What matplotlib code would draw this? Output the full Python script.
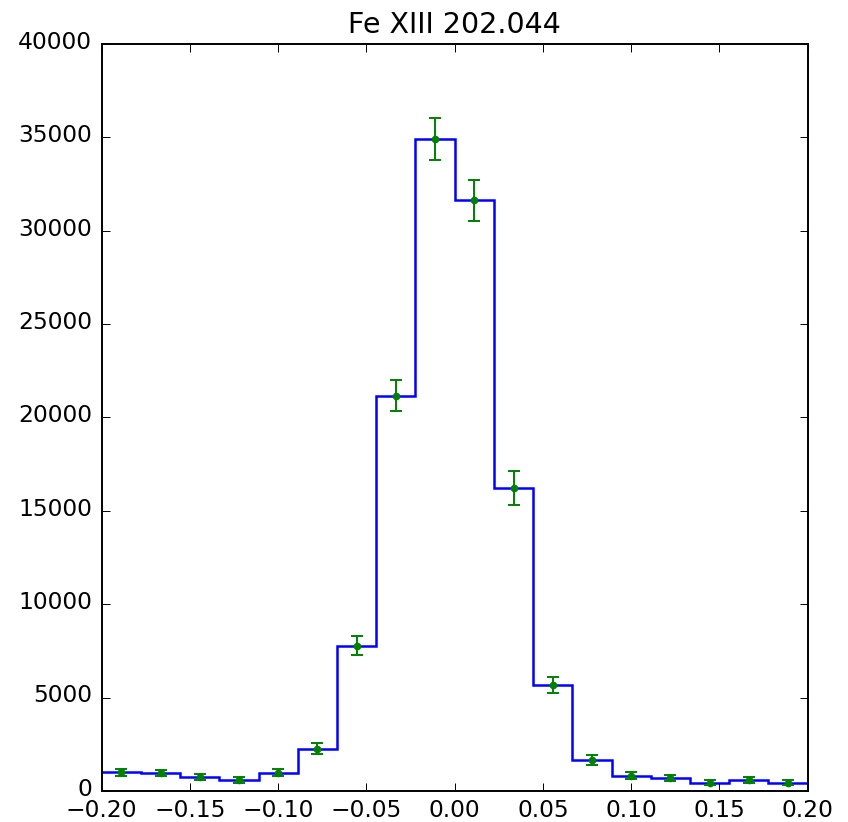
import numpy as np
import matplotlib
matplotlib.use("Agg")
import matplotlib.pyplot as plt
import matplotlib.transforms as mtransforms

# Line profile histogram: 18 bins spanning -0.2 .. 0.2
bin_lo, bin_hi, n_bins = -0.2, 0.2, 18
counts = [1000, 960, 740, 590, 990, 2270, 7790, 21170, 34920,
          31620, 16240, 5680, 1660, 830, 710, 440, 610, 450]
errors = [180, 180, 170, 150, 180, 300, 500, 840, 1120,
          1080, 920, 440, 270, 180, 170, 140, 160, 140]
title = "Fe XIII 202.044"
xticks = [-0.20, -0.15, -0.10, -0.05, 0.00, 0.05, 0.10, 0.15, 0.20]
yticks = [0, 5000, 10000, 15000, 20000, 25000, 30000, 35000, 40000]

edges = np.linspace(bin_lo, bin_hi, n_bins + 1)
centers = 0.5 * (edges[:-1] + edges[1:])

plt.rcParams["font.family"] = "DejaVu Sans"
fig = plt.figure(figsize=(8.48, 8.22), dpi=100)
ax = fig.add_axes([0.1199, 0.0377, 0.8326, 0.9088])

ax.stairs(counts, edges, baseline=None, color="b", linewidth=1.8)
ax.errorbar(centers, counts, yerr=errors, fmt=".", color="g",
            markersize=9, elinewidth=1.4, capsize=4.3, capthick=1.4)

ax.set_xlim(bin_lo, bin_hi)
ax.set_ylim(0, 40000)
ax.set_xticks(xticks)
ax.set_xticklabels([f"{v:.2f}".replace("-", "\u2212") for v in xticks])
ax.set_yticks(yticks)
ax.set_yticklabels([str(v) for v in yticks])
ax.tick_params(direction="in", top=True, right=True, length=5.6,
               width=0.7, labelsize=16.8, colors="black")
ax.tick_params(axis="x", pad=6)
ax.tick_params(axis="y", pad=7)
# lift the y labels a little so the lowest one clears the x labels
lift = mtransforms.ScaledTranslation(0, 3 / 72, fig.dpi_scale_trans)
for lbl in ax.get_yticklabels():
    lbl.set_verticalalignment("center_baseline")
    lbl.set_transform(lbl.get_transform() + lift)
for s in ax.spines.values():
    s.set_linewidth(1.4)
ax.set_title(title, fontsize=20.5, pad=8)

fig.savefig("out.png", dpi=100, facecolor="white")
